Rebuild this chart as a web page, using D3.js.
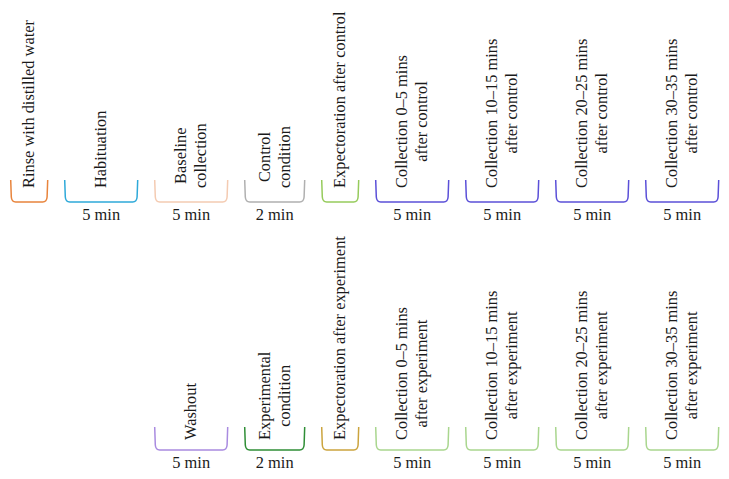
<!DOCTYPE html>
<html>
<head>
<meta charset="utf-8">
<script src="https://cdn.jsdelivr.net/npm/d3@7"></script>
<style>
  html, body { margin: 0; padding: 0; background: #fff; }
  svg { display: block; }
  text { font-family: "Liberation Serif", "Times New Roman", serif; fill: #1a1a1a; }
</style>
</head>
<body>
<svg id="chart" width="729" height="479"></svg>
<script>
// ---- data ----
const topLabels = [
  ["Rinse with distilled water"],
  ["Habituation"],
  ["Baseline", "collection"],
  ["Control", "condition"],
  ["Expectoration after control"],
  ["Collection 0\u20135 mins", "after control"],
  ["Collection 10\u201315 mins", "after control"],
  ["Collection 20\u201325 mins", "after control"],
  ["Collection 30\u201335 mins", "after control"]
];
const topDurations = ["", "5 min", "5 min", "2 min", "", "5 min", "5 min", "5 min", "5 min"];
const topKinds = ["short", "long", "long", "mid", "short", "long", "long", "long", "long"];
const topColors = ["#E8843C", "#2EA9D9", "#F4CBB2", "#B0B0B0", "#96CB5C", "#5B50D8", "#5B50D8", "#5B50D8", "#5B50D8"];

const bottomLabels = [
  ["Washout"],
  ["Experimental", "condition"],
  ["Expectoration after experiment"],
  ["Collection 0\u20135 mins", "after experiment"],
  ["Collection 10\u201315 mins", "after experiment"],
  ["Collection 20\u201325 mins", "after experiment"],
  ["Collection 30\u201335 mins", "after experiment"]
];
const bottomDurations = ["5 min", "2 min", "", "5 min", "5 min", "5 min", "5 min"];
const bottomColors = ["#A98BE0", "#2F8E36", "#CBA43E", "#A9D68E", "#A9D68E", "#A9D68E", "#A9D68E"];
const bottomStartColumn = 2;

// ---- layout ----
const svg = d3.select("#chart");
const fontSize = 16.4, lineGap = 20;
const kindWidth = d3.scaleOrdinal().domain(["short", "mid", "long"]).range([37, 60, 73]);
const gap = 17.0, left = 10.7;

// column extents via cumulative widths
const colStart = [];
let acc = left;
topKinds.forEach((k, i) => { colStart.push(acc); acc += kindWidth(k) + gap; });
const x0 = i => colStart[i];
const x1 = i => colStart[i] + kindWidth(topKinds[i]);

const rows = [
  { labels: topLabels, durations: topDurations, colors: topColors, offset: 0,
    bTop: 180, bBot: 202, textBottom: 188, durBase: 220 },
  { labels: bottomLabels, durations: bottomDurations, colors: bottomColors, offset: bottomStartColumn,
    bTop: 427, bBot: 450, textBottom: 440, durBase: 468 }
];

function bracketPath(a, b, top, bot) {
  const r = 5;
  const p = d3.path();
  p.moveTo(a, top);
  p.lineTo(a + 0.6, bot - r);
  p.quadraticCurveTo(a + 1, bot, a + r, bot);
  p.lineTo(b - r, bot);
  p.quadraticCurveTo(b - 1, bot, b - 0.6, bot - r);
  p.lineTo(b, top);
  return p.toString();
}

rows.forEach(row => {
  row.labels.forEach((lines, j) => {
    const col = j + row.offset;
    const a = x0(col), b = x1(col), cx = (a + b) / 2;
    const g = svg.append("g");
    g.append("path")
      .attr("d", bracketPath(a, b, row.bTop, row.bBot))
      .attr("fill", "none")
      .attr("stroke", row.colors[j])
      .attr("stroke-width", 1.5);

    if (row.durations[j]) {
      g.append("text")
        .attr("x", cx).attr("y", row.durBase)
        .attr("text-anchor", "middle")
        .attr("font-size", fontSize)
        .text(row.durations[j]);
    }

    const lab = g.append("text")
      .attr("text-anchor", "middle")
      .attr("font-size", fontSize);
    const n = lines.length;
    lines.forEach((t, k) => {
      lab.append("tspan")
        .attr("x", 0)
        .attr("y", (k - (n - 1) / 2) * lineGap + 5)
        .text(t);
    });
    let maxLen = 0;
    lab.selectAll("tspan").each(function () {
      maxLen = Math.max(maxLen, this.getComputedTextLength());
    });
    const cy = row.textBottom - maxLen / 2;
    lab.attr("transform", `translate(${cx},${cy}) rotate(-90)`);
  });
});
</script>
</body>
</html>
